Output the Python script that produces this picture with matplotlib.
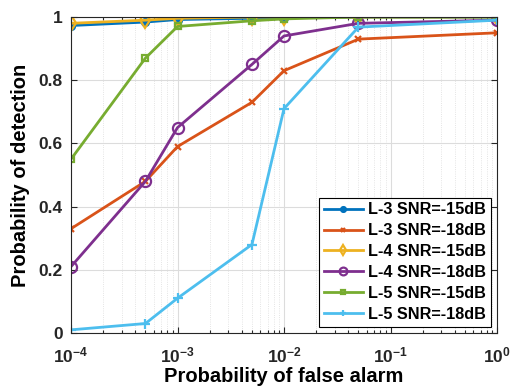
import matplotlib
matplotlib.use("Agg")
import matplotlib.pyplot as plt
from matplotlib.ticker import LogLocator, NullFormatter

plt.rcParams['font.family'] = ['Liberation Sans', 'DejaVu Sans']
plt.rcParams['font.weight'] = 'bold'

pfa = [1e-4, 5e-4, 1e-3, 5e-3, 1e-2, 5e-2, 1e0]

l3_15 = [0.973, 0.984, 0.992, 0.996, 0.998, 1.0, 1.0]
l3_18 = [0.33, 0.48, 0.59, 0.73, 0.83, 0.93, 0.95]
l4_15 = [0.98, 0.99, 0.996, 1.0, 1.0, 1.0, 1.0]
l4_18 = [0.21, 0.48, 0.65, 0.85, 0.94, 0.98, 0.99]
l5_15 = [0.55, 0.87, 0.97, 0.988, 0.994, 1.0, 1.0]
l5_18 = [0.01, 0.03, 0.11, 0.28, 0.71, 0.968, 0.99]

labels = ['L-3 SNR=-15dB', 'L-3 SNR=-18dB', 'L-4 SNR=-15dB',
          'L-4 SNR=-18dB', 'L-5 SNR=-15dB', 'L-5 SNR=-18dB']
series = [l3_15, l3_18, l4_15, l4_18, l5_15, l5_18]
colors = ['#0072BD', '#D95319', '#EDB120', '#7E2F8E', '#77AC30', '#4DBEEE']
markers = ['o', 'x', 'd', 'o', 's', '+']
fills = [True, False, False, False, False, False]
msizes = [5, 5, 8, 8, 5, 7]

fig = plt.figure(figsize=(5.11, 3.92), dpi=100)
ax = fig.add_axes([71/511, 1 - 333/392, (497-71)/511, (333-17)/392])

for y, lab, c, m, f, ms in zip(series, labels, colors, markers, fills, msizes):
    ax.plot(pfa, y, color=c, marker=m, markersize=ms, linewidth=2,
            markerfacecolor=c if f else 'none', markeredgecolor=c,
            markeredgewidth=1.6, label=lab)

ax.set_xscale('log')
ax.set_xlim(1e-4, 1)
ax.set_ylim(0, 1)
ax.set_yticks([0, 0.2, 0.4, 0.6, 0.8, 1])
ax.set_yticklabels(['0', '0.2', '0.4', '0.6', '0.8', '1'])
ax.xaxis.set_major_locator(LogLocator(base=10, numticks=10))
ax.xaxis.set_minor_locator(LogLocator(base=10, subs=range(2, 10), numticks=10))
ax.xaxis.set_minor_formatter(NullFormatter())

ax.grid(True, which='major', color='#dcdcdc', linewidth=0.8)
ax.grid(True, which='minor', axis='x', color='#dcdcdc', linewidth=0.6, linestyle=':')
ax.set_axisbelow(True)

ax.tick_params(which='both', direction='in', top=True, right=True,
               labelsize=12.5, colors='#262626', width=0.8)
ax.tick_params(which='major', length=4)
ax.tick_params(which='minor', length=2)
ax.tick_params(axis='x', which='major', pad=9)
ax.tick_params(axis='y', which='major', pad=6)
for sp in ax.spines.values():
    sp.set_color('#262626')
    sp.set_linewidth(0.8)

ax.set_xlabel('Probability of false alarm', fontsize=14.5, fontweight='bold', labelpad=1)
ax.set_ylabel('Probability of detection', fontsize=14.5, fontweight='bold', labelpad=6)

leg = ax.legend(loc='lower right', fontsize=11.7, frameon=True, fancybox=False,
                edgecolor='black', framealpha=1, handlelength=2.4,
                borderpad=0.3, labelspacing=0.36, handletextpad=0.3,
                borderaxespad=0.4, markerscale=0.7)
leg.get_frame().set_linewidth(0.8)

fig.savefig('out.png', dpi=100)
